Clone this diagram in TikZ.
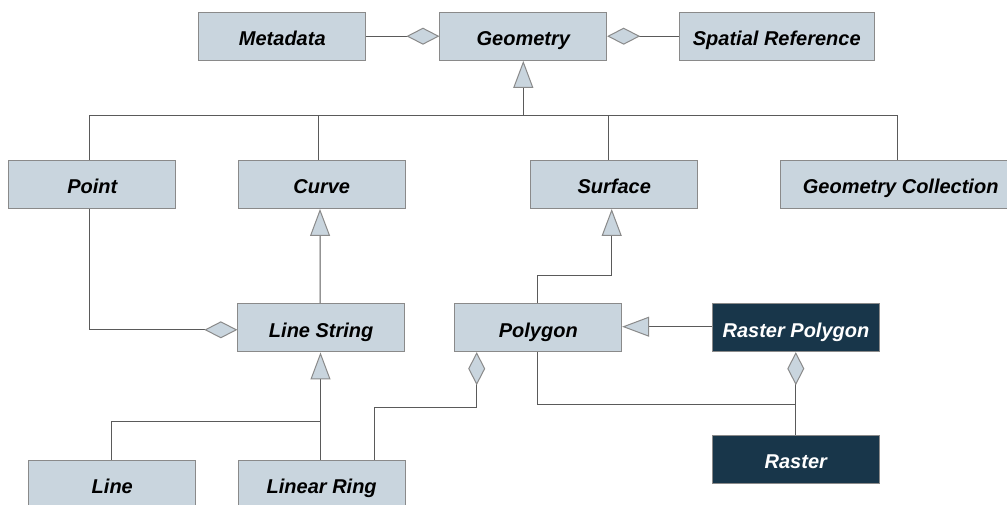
\documentclass[tikz,border=0pt]{standalone}
\usepackage{fontspec}
\setmainfont{Liberation Sans}
\usetikzlibrary{arrows.meta}
\definecolor{boxfill}{HTML}{C9D5DE}
\definecolor{darkfill}{HTML}{18364A}
\definecolor{boxline}{HTML}{8A8A8A}
\definecolor{conn}{HTML}{5A5A5A}
\tikzset{
  cls/.style={draw=boxline, fill=boxfill, line width=1pt, minimum width=166.7pt, minimum height=48.3pt,
    inner sep=0pt, text height=19pt, text depth=0pt,
    font=\fontsize{20}{24}\selectfont\bfseries\itshape, text=black},
  darkcls/.style={cls, fill=darkfill, text=white},
  wire/.style={draw=conn, line width=1pt},
  gen/.style={wire, -{Triangle[length=27pt, width=20pt, color=boxline, fill=boxfill, line width=1pt]}},
  agg/.style={wire, -{Diamond[length=33pt, width=17pt, color=boxline, fill=boxfill, line width=1pt]}}
}
\begin{document}
\begin{tikzpicture}[x=1pt,y=-1pt]
\useasboundingbox (0,0) rectangle (1007,505);
\fill[white] (0,0) rectangle (1007,505);
\clip (0,0) rectangle (1007,505);

% nodes
\node[cls] (meta) at (282.3,36.2) {Metadata};
\node[cls] (geom) at (523.3,36.2) {Geometry};
\node[cls, minimum width=195pt] (sref) at (776.8,36.2) {Spatial Reference};
\node[cls] (point) at (92.3,184.3) {Point};
\node[cls] (curve) at (321.7,184.3) {Curve};
\node[cls] (surf) at (614.3,184.3) {Surface};
\node[cls, minimum width=234pt] (gcol) at (897.7,184.3) {\hspace*{6pt}Geometry Collection};
\node[cls] (ls) at (321.2,327.8) {Line String};
\node[cls] (poly) at (538.3,327.5) {Polygon};
\node[darkcls] (rpoly) at (796,327.5) {Raster Polygon};
\node[darkcls] (raster) at (795.8,459.2) {Raster};
\node[cls] (line) at (112.3,484.2) {Line};
\node[cls] (lring) at (321.7,484.2) {Linear Ring};

% helper coordinates
\coordinate (bus) at (523.3,116);
\coordinate (lsbus) at (320.5,421.7);
\coordinate (ringbend) at (476.7,407.7);
\coordinate (rbend) at (795.8,404.3);

% aggregations on Geometry
\draw[agg] (meta.east) -- (geom.west);
\draw[agg] (sref.west) -- (geom.east);

% generalization to Geometry
\draw[wire] ([xshift=-3pt]point.north) |- (bus);
\draw[wire] (bus) -| (gcol.north);
\draw[wire] ([xshift=-3.4pt]curve.north) -- ([xshift=-3.4pt]curve.north |- bus);
\draw[wire] ([xshift=-6pt]surf.north) -- ([xshift=-6pt]surf.north |- bus);
\draw[gen] (bus) -- (geom.south);

% Curve <- Line String
\draw[gen] ([xshift=-1pt]ls.north) -- ([xshift=-1.7pt]curve.south);
% Point -- Line String aggregation
\draw[agg] ([xshift=-3pt]point.south) |- ([yshift=-2pt]ls.west);

% Surface <- Polygon
\draw[gen] ([xshift=-0.8pt]poly.north) -- ++(0,-27) -| ([xshift=-2.6pt]surf.south);
% Polygon <- Raster Polygon
\draw[gen] ([yshift=0.8pt]rpoly.west) -- ([yshift=0.8pt]poly.east);

% Line String <- Line, Linear Ring
\draw[gen] ([xshift=-1.2pt]lring.north) -- ([xshift=-0.7pt]ls.south);
\draw[wire] ([xshift=-1.3pt]line.north) |- (lsbus);

% Linear Ring -- Polygon aggregation
\draw[wire] ([xshift=52.6pt]lring.north) |- (ringbend);
\draw[agg] (ringbend) -- (ringbend |- poly.south);

% Raster -- Raster Polygon aggregation
\draw[agg] (raster.north) -- (raster.north |- rpoly.south);
\draw[wire] ([xshift=-1pt]poly.south) |- (rbend);
\end{tikzpicture}
\end{document}
